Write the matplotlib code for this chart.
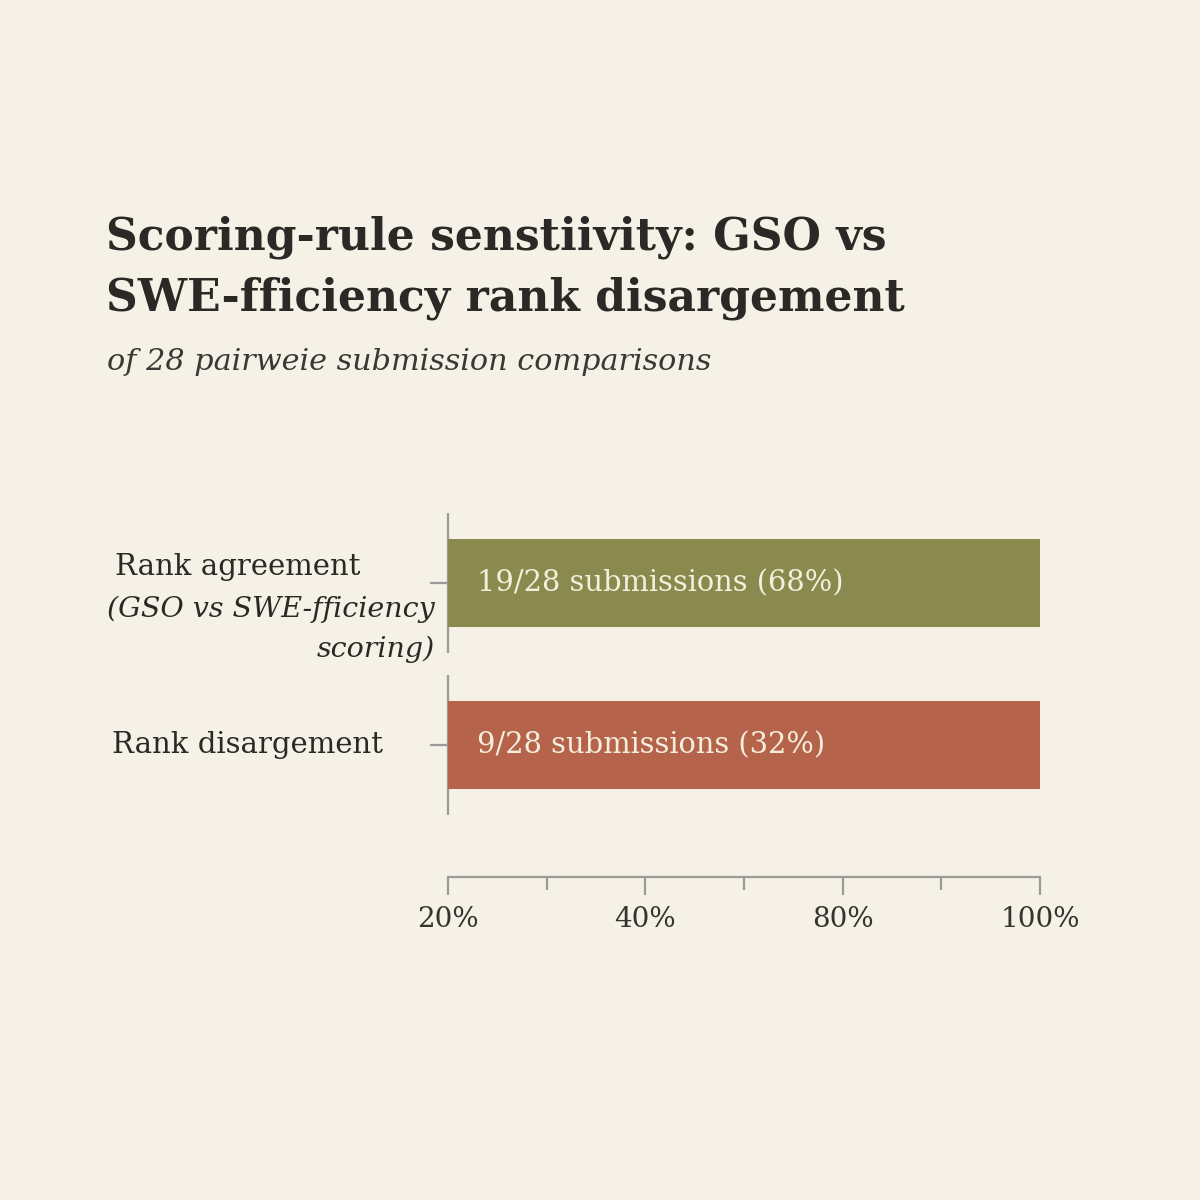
import matplotlib
matplotlib.use("Agg")
import matplotlib.pyplot as plt
import numpy as np

# ---- data ----
categories = ["Rank agreement", "Rank disargement"]
category_notes = ["(GSO vs SWE-fficiency\nscoring)", ""]
bar_values = [100, 100]
bar_labels = ["19/28 submissions (68%)", "9/28 submissions (32%)"]
tick_labels = ["20%", "40%", "80%", "100%"]
title = "Scoring-rule senstiivity: GSO vs\nSWE-fficiency rank disargement"
subtitle = "of 28 pairweie submission comparisons"

BG = "#f5f1e6"
COLORS = ["#8a894e", "#b5634a"]
TEXT = "#2b2926"
AXC = "#9a9a96"
SERIF = "DejaVu Serif"

W = H = 1200
fig = plt.figure(figsize=(12, 12), dpi=100, facecolor=BG)

def fx(px):
    return px / W

def fy(py):
    return 1 - py / H

ax_left, ax_right, ax_top, ax_bottom = 448, 1040, 513, 877
ax = fig.add_axes([fx(ax_left), fy(ax_bottom), fx(ax_right - ax_left), (ax_bottom - ax_top) / H])
ax.set_facecolor(BG)

xmin, xmax = 20, 100
ypos = np.arange(len(categories))
ax.barh(ypos, np.array(bar_values) - xmin, left=xmin, height=0.543, color=COLORS, zorder=2)
ax.set_xlim(xmin, xmax)
ax.set_ylim(1.815, -0.432)

for y, lab in zip(ypos, bar_labels):
    ax.text(xmin + 3.9, y, lab, va="center", ha="left", color="#f4eedc",
            fontsize=20.8, family=SERIF, zorder=3)

# spines
for s in ["top", "right", "left"]:
    ax.spines[s].set_visible(False)
ax.spines["bottom"].set_color(AXC)
ax.spines["bottom"].set_linewidth(1.6)
for y in ypos:
    ax.vlines(xmin, y - 0.43, y + 0.43, color=AXC, linewidth=1.6, clip_on=False, zorder=1)

major = np.linspace(xmin, xmax, len(tick_labels))
ax.set_xticks(major)
ax.set_xticklabels(tick_labels, fontsize=20, family=SERIF, color="#36332f")
ax.set_xticks((major[:-1] + major[1:]) / 2, minor=True)
ax.tick_params(axis="x", which="major", length=13, width=1.6, color=AXC, pad=8)
ax.tick_params(axis="x", which="minor", length=9, width=1.6, color=AXC)

ax.set_yticks(ypos)
ax.set_yticklabels([])
ax.tick_params(axis="y", length=13, width=1.6, color=AXC)

# category labels
fig.text(fx(115), fy(567), categories[0], ha="left", va="center", fontsize=21,
         family=SERIF, color=TEXT)
fig.text(fx(435), fy(629), category_notes[0], ha="right", va="center", fontsize=20.5,
         family=SERIF, style="italic", color=TEXT, multialignment="right", linespacing=1.58)
fig.text(fx(112), fy(745), categories[1], ha="left", va="center", fontsize=21,
         family=SERIF, color=TEXT)

# title & subtitle
fig.text(fx(106), fy(310), title, ha="left", va="baseline", fontsize=31.7,
         family=SERIF, weight="bold", color=TEXT, linespacing=1.5)
fig.text(fx(107), fy(370), subtitle, ha="left", va="baseline", fontsize=21.8,
         family=SERIF, style="italic", color="#3a3835")

fig.savefig("out.png", dpi=100, facecolor=BG)
